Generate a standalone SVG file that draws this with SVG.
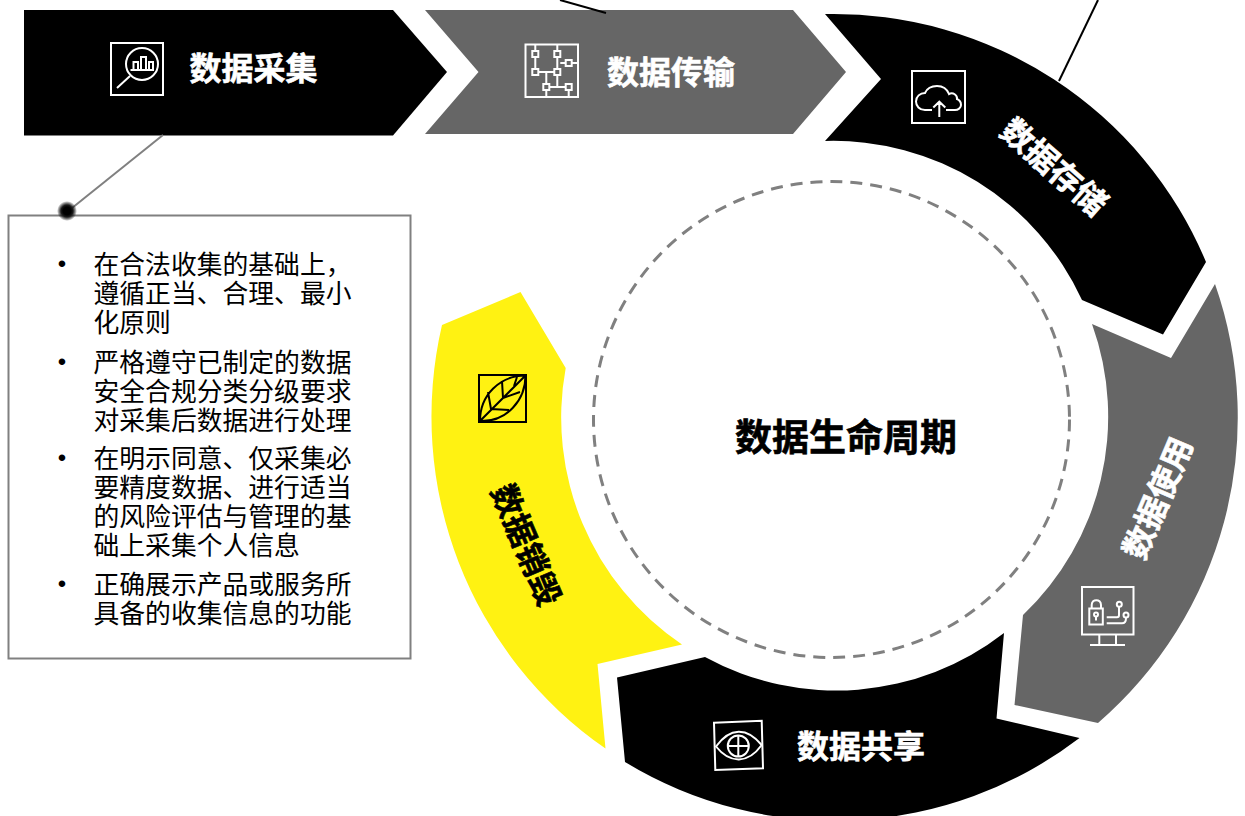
<svg xmlns="http://www.w3.org/2000/svg" width="1245" height="816" viewBox="0 0 1245 816">
<style>
text{font-family:"Noto Sans CJK SC","Liberation Sans",sans-serif}
.h{font-size:32px;font-weight:700;text-anchor:middle;stroke-width:0.6px}
.w{fill:#fff}
.h.w{stroke:#fff}
.k{fill:#000}
.h.k{stroke:#000}
.b{font-size:25.800px;fill:#000}
.d{font-size:24px;fill:#000;text-anchor:middle;font-family:"Liberation Sans",sans-serif}
.iw{fill:none;stroke:#fff;stroke-width:2}
.ik{fill:none;stroke:#000;stroke-width:2}
.c{fill:none;stroke-width:2}
</style>
<defs>
<radialGradient id="dot"><stop offset="0.4" stop-color="#000"/><stop offset="0.6" stop-color="#1a1a1a"/><stop offset="1" stop-color="#000" stop-opacity="0"/></radialGradient>
</defs>
<rect width="1245" height="816" fill="#fff"/>
<g id="step-collect">
<path class="k" d="M24,10H393L447,72L393,135.500H24Z"/>
<rect class="iw" x="111" y="43" width="52" height="52"/>
<circle class="iw" cx="142" cy="64" r="16"/>
<path class="iw" d="M117,88L130,76M130.500,70H154M133.500,70V62H138V70M141,70V57H146V70M149,70V62H153V70"/>
<text class="h w" x="253.500" y="80">数据采集</text>
</g>
<g id="step-transfer">
<path d="M425,10H793L846,72L793,134H425L478.500,72Z" fill="#666"/>
<rect class="iw" x="525.500" y="44.500" width="52.500" height="52.500"/>
<path class="iw" d="M535.300,44.500V51M535.300,57V69M557.300,44.500V51M557.300,57V69M560.300,63H565.700M571.700,63H578M538.300,72H554.300M546.300,72V84M557.300,75V87H565.700M549.300,87H565.700M546.300,90V97M568.700,90V97"/>
<rect class="iw" x="532.300" y="51" width="6" height="6"/><rect class="iw" x="554.300" y="51" width="6" height="6"/><rect class="iw" x="565.700" y="60" width="6" height="6"/><rect class="iw" x="532.300" y="69" width="6" height="6"/><rect class="iw" x="554.300" y="69" width="6" height="6"/><rect class="iw" x="543.300" y="84" width="6" height="6"/><rect class="iw" x="565.700" y="84" width="6" height="6"/>
<text class="h w" x="671" y="84">数据传输</text>
</g>
<g id="step-store">
<path class="k" d="M825,14A403.500,403.500 0 0 1 1206,262L1163,334.500L1082,300A273.500,273.500 0 0 0 825,141L881,79Z"/>
<rect class="iw" x="912" y="71" width="53" height="52"/>
<path class="iw" d="M932,110H925C919.500,110 916,106 916,101.500C916,96.500 920,93 925,93C927,88.500 932,86 937,86C943,86 947,89 949,94C953,92 957.500,95 957,99C959.500,100 961,102.500 961,105C961,108 958,110 955,110H946M939.300,117V102M933.300,107.500L939.300,101.700L945.300,107.500"/>
<text class="h w" transform="translate(1054,167) rotate(41)" y="11.500">数据存储</text>
</g>
<g id="step-use">
<path d="M1215,284A403.500,403.500 0 0 1 1098,723L1014.500,705L1023,615A273.500,273.500 0 0 0 1092,324L1171,358Z" fill="#666"/>
<rect class="iw" x="1082" y="587" width="51.500" height="47.500"/>
<path class="iw" d="M1099.300,634.500V645M1116,634.500V645M1090,645H1125"/>
<rect class="iw" x="1089.300" y="608.500" width="13.500" height="16"/>
<path class="iw" d="M1091.700,608.500V605C1091.700,598.500 1101,598.500 1101,605V608.500M1096,616V620.500M1106.700,617.300H1117Q1119,617.300 1119,615V607M1106.700,623.300H1122Q1126,623.300 1126,618"/>
<circle class="iw" cx="1096" cy="614.500" r="2"/><circle class="iw" cx="1119.300" cy="604.300" r="2.500"/><circle class="iw" cx="1126" cy="615" r="2.500"/>
<text class="h w" transform="translate(1158,498) rotate(-67)" y="11.500">数据使用</text>
</g>
<g id="step-share">
<path class="k" d="M617,677.500L705,657A273.500,273.500 0 0 0 1004,633L996.500,718.500L1079.500,738A403.500,403.500 0 0 1 625,762Z"/>
<path class="iw" d="M714,722.700L761.700,720.700L763,768.300L715.300,770Z"/>
<path class="iw" d="M716,746.500C730,727 747,727 761.700,745C748,764 730,764 716,746.500Z"/>
<circle class="iw" cx="738.300" cy="746" r="10.500"/>
<path class="iw" d="M727.800,746H748.800M738.300,735.500V756.500"/>
<text class="h w" x="861" y="758">数据共享</text>
</g>
<g id="step-destroy">
<path d="M442,325L520.500,292L565.700,368A273.500,273.500 0 0 0 682,644.500L597.500,664L605.500,748.500A403.500,403.500 0 0 1 442,325Z" fill="#fff212"/>
<rect class="ik" x="479" y="375" width="47" height="47"/>
<path class="ik" d="M480,421C480,395 500,375.500 525.500,375.500C525.500,400 507,422 480,421ZM480,421L525.500,375.500M491,409L488,392M503,398L502,381M514,386L517,377M491,409L509,410M503,398L520,392"/>
<text class="h k" transform="translate(526,545) rotate(67)" y="11.500">数据销毁</text>
</g>
<g id="step-lifecycle">
<circle cx="831.500" cy="419.500" r="238" fill="none" stroke="#808080" stroke-width="3" stroke-dasharray="12 8"/>
<text class="h k" x="846" y="451" style="font-size:37px">数据生命周期</text>
</g>
<g id="note">
<rect x="8.500" y="215.500" width="402" height="443" fill="#fff" stroke="#808080" stroke-width="2"/>
<text class="d" x="62" y="272">•</text><text class="d" x="62" y="370">•</text><text class="d" x="62" y="466">•</text><text class="d" x="62" y="592">•</text>
<text class="b" x="93.500" y="273.500">在合法收集的基础上，</text>
<text class="b" x="93.500" y="302.500">遵循正当、合理、最小</text>
<text class="b" x="93.500" y="331.500">化原则</text>
<text class="b" x="93.500" y="371.500">严格遵守已制定的数据</text>
<text class="b" x="93.500" y="400.500">安全合规分类分级要求</text>
<text class="b" x="93.500" y="429.500">对采集后数据进行处理</text>
<text class="b" x="93.500" y="467.500">在明示同意、仅采集必</text>
<text class="b" x="93.500" y="496.500">要精度数据、进行适当</text>
<text class="b" x="93.500" y="525.500">的风险评估与管理的基</text>
<text class="b" x="93.500" y="554.500">础上采集个人信息</text>
<text class="b" x="93.500" y="593.500">正确展示产品或服务所</text>
<text class="b" x="93.500" y="622.500">具备的收集信息的功能</text>
</g>
<g id="connectors">
<path class="c" stroke="#000" d="M560,0L606,13"/>
<path class="c" stroke="#000" d="M1098,0L1059,81"/>
<path class="c" stroke="#808080" d="M163,135L72,208"/>
<circle cx="67" cy="211" r="10" fill="url(#dot)"/>
</g>
</svg>
